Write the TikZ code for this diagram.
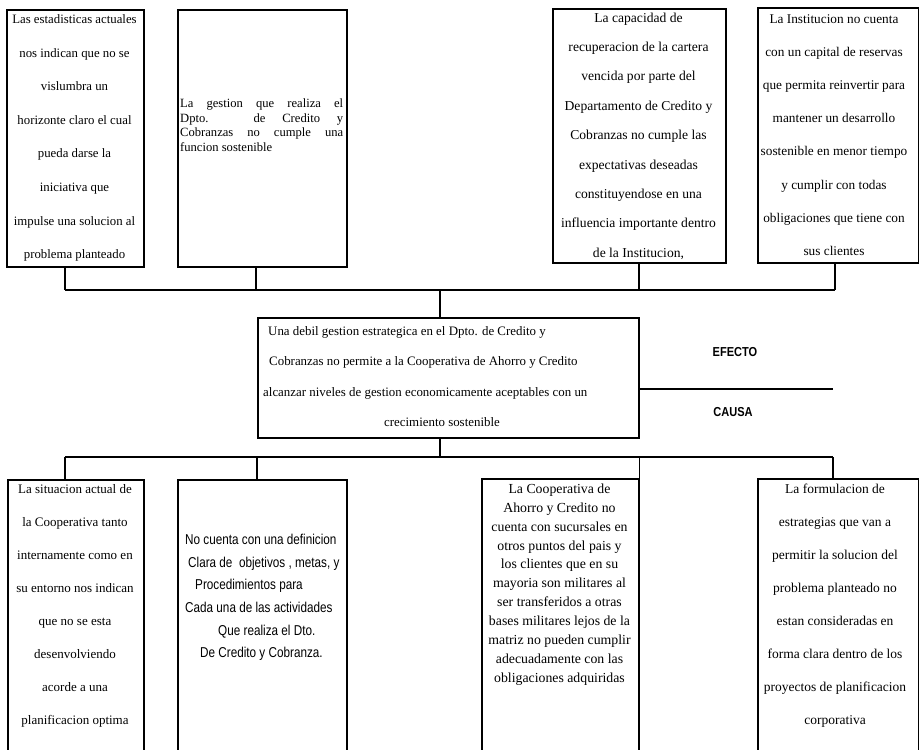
\documentclass[tikz,border=0pt]{standalone}
\usepackage{fontspec}
\setmainfont{Liberation Serif}
\newfontfamily\narrowsans{Liberation Sans}[FakeStretch=0.82]
\newfontfamily\labelsans{Liberation Sans}[FakeStretch=0.85]

\begin{document}
\begin{tikzpicture}[x=1pt,y=-1pt,
  box/.style={draw, line width=1.5pt, inner sep=0pt, anchor=north west},
  link/.style={line width=1.5pt},
  txt/.style={inner sep=0pt, align=center},
  lbl/.style={inner sep=0pt, font=\labelsans\bfseries\fontsize{13}{15}\selectfont}
]
% page frame
\clip (0,0) rectangle (919,750);
\fill[white] (0,0) rectangle (919,750);

% ---------- effects (top row) ----------
\node[box, minimum width=137pt, minimum height=257pt] (t1) at (6,9) {};
\node[box, minimum width=169pt, minimum height=257pt] (t2) at (177,9) {};
\node[box, minimum width=173pt, minimum height=254pt] (t3) at (552,8) {};
\node[box, minimum width=161pt, minimum height=255pt] (t4) at (757,7) {};

\node[txt, font=\fontsize{12.8}{33.6}\selectfont] (t1t) at (74.5,138) {%
Las estadisticas actuales\\ nos indican que no se\\ vislumbra un\\
horizonte claro el cual\\ pueda darse la\\ iniciativa que\\
impulse una solucion al\\ problema planteado};

\node[txt, align=left, anchor=west, font=\fontsize{12.6}{14.5}\selectfont] (t2t) at (180,125) {%
\makebox[163pt][s]{La gestion que realiza el}\\
\makebox[163pt][s]{Dpto. de Credito y}\\
\makebox[163pt][s]{Cobranzas no cumple una}\\
funcion sostenible};

\node[txt, font=\fontsize{13.6}{29.4}\selectfont] (t3t) at (638.5,136) {%
La capacidad de\\ recuperacion de la cartera\\ vencida por parte del\\
Departamento de Credito y\\ Cobranzas no cumple las\\ expectativas deseadas\\
constituyendose en una\\ influencia importante dentro\\ de la Institucion,};

\node[txt, font=\fontsize{13.3}{33.2}\selectfont] (t4t) at (834,135) {%
La Institucion no cuenta\\ con un capital de reservas\\ que permita reinvertir para\\
mantener un desarrollo\\ sostenible en menor tiempo\\ y cumplir con todas\\
obligaciones que tiene con\\ sus clientes};

% ---------- central problem ----------
\node[box, minimum width=381pt, minimum height=120pt] (core) at (257,317) {};
\begin{scope}[every node/.style={inner sep=0pt, font=\fontsize{12.9}{15}\selectfont, text height=9pt, text depth=3pt}]
\node[anchor=west] (c1) at (268,332) {Una debil gestion estrategica en el Dpto. de Credito y};
\node[anchor=west] (c2) at (269,362) {Cobranzas no permite a la Cooperativa de Ahorro y Credito};
\node[anchor=west] (c3) at (263,393) {alcanzar niveles de gestion economicamente aceptables con un};
\node (c4) at (442,423) {crecimiento sostenible};
\end{scope}

% ---------- causes (bottom row, running past the lower edge) ----------
\node[box, minimum width=136pt, minimum height=290pt] (b1) at (7,479) {};
\node[box, minimum width=169pt, minimum height=290pt] (b2) at (177,479) {};
\node[box, minimum width=157pt, minimum height=290pt] (b3) at (481,478) {};
\node[box, minimum width=161pt, minimum height=290pt] (b4) at (757,478) {};

\node[txt, font=\fontsize{13}{33}\selectfont] (b1t) at (75,606) {%
La situacion actual de\\ la Cooperativa tanto\\ internamente como en\\
su entorno nos indican\\ que no se esta\\ desenvolviendo\\
acorde a una\\ planificacion optima};

\node[txt, align=left, anchor=west, font=\narrowsans\fontsize{14.3}{22.6}\selectfont] (b2t) at (185,597.5) {%
No cuenta con una definicion\\
\hspace*{3pt}Clara de\ \ objetivos , metas, y\\
\hspace*{10pt}Procedimientos para\\
Cada una de las actividades\\
\hspace*{33pt}Que realiza el Dto.\\
\hspace*{15pt}De Credito y Cobranza.};

\node[txt, font=\fontsize{13.8}{18.9}\selectfont] (b3t) at (559.5,584.5) {%
La Cooperativa de\\ Ahorro y Credito no\\ cuenta con sucursales en\\
otros puntos del pais y\\ los clientes que en su\\ mayoria son militares al\\
ser transferidos a otras\\ bases militares lejos de la\\ matriz no pueden cumplir\\
adecuadamente con las\\ obligaciones adquiridas};

\node[txt, font=\fontsize{13.5}{33}\selectfont] (b4t) at (835,606) {%
La formulacion de\\ estrategias que van a\\ permitir la solucion del\\
problema planteado no\\ estan consideradas en\\ forma clara dentro de los\\
proyectos de planificacion\\ corporativa};

% ---------- junction points ----------
\coordinate (tl) at (65,290);
\coordinate (tr) at (835,290);
\coordinate (tm) at (440,290);
\coordinate (bl) at (65,457);
\coordinate (br) at (833,457);
\coordinate (bm) at (440,457);
\coordinate (axis) at (833,389);

% upper tree
\draw[link] (tl) -- (tr);
\draw[link] (t1.south -| tl) -- (tl);
\draw[link] (t2.south -| 256,0) -- (256,290);
\draw[link] (t3.south -| 639,0) -- (639,290);
\draw[link] (t4.south -| tr) -- (tr);
\draw[link] (tm) -- (core.north -| tm);

% lower tree
\draw[link] (core.south -| bm) -- (bm);
\draw[link] (bl) -- (br);
\draw[link] (bl) -- (b1.north -| bl);
\draw[link] (257,457) -- (b2.north -| 257,0);
\draw[link] (b3.north east |- bm) -- (b3.north east);
\draw[link] (br) -- (b4.north -| br);

% effect / cause divider
\draw[link] (core.east |- axis) -- (axis);
\node[lbl] (efecto) at (735,352) {EFECTO};
\node[lbl] (causa) at (733,412) {CAUSA};
\end{tikzpicture}
\end{document}
